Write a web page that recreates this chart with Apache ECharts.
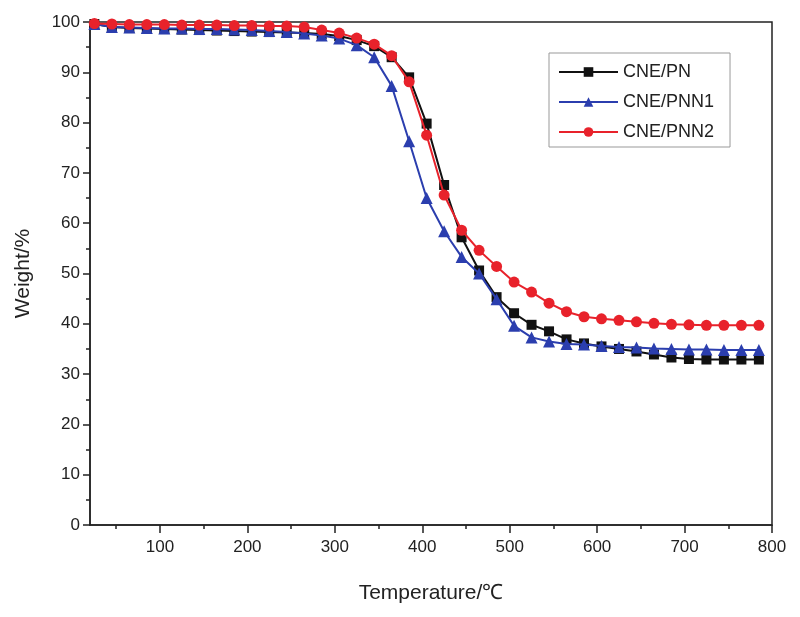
<!DOCTYPE html>
<html>
<head>
<meta charset="utf-8">
<script src="https://cdn.jsdelivr.net/npm/echarts@6/dist/echarts.min.js"></script>
<style>html,body{margin:0;padding:0;background:#fff}#c{width:800px;height:617px}</style>
</head>
<body>
<div id="c"></div>
<script>
var temps = [25,45,65,85,105,125,145,165,185,205,225,245,265,285,305,325,345,365,385,405,425,445,465,485,505,525,545,565,585,605,625,645,665,685,705,725,745,765,785];
var cnePN = [99.6,99.0,98.8,98.7,98.6,98.5,98.4,98.3,98.2,98.1,98.0,97.9,97.8,97.6,97.2,96.4,95.2,93.0,89.0,79.8,67.6,57.2,50.6,45.3,42.1,39.8,38.5,36.9,36.1,35.5,35.0,34.5,33.9,33.3,33.0,32.9,32.9,32.9,32.9];
var cnePNN1 = [99.6,99.0,98.9,98.8,98.7,98.7,98.6,98.6,98.5,98.4,98.2,98.0,97.7,97.3,96.7,95.4,93.0,87.3,76.3,65.0,58.4,53.3,50.0,44.9,39.6,37.3,36.5,36.0,35.9,35.6,35.4,35.3,35.1,35.0,34.9,34.9,34.8,34.8,34.8];
var cnePNN2 = [99.7,99.6,99.5,99.5,99.5,99.4,99.4,99.4,99.3,99.3,99.2,99.2,99.0,98.4,97.8,96.8,95.6,93.3,88.1,77.5,65.6,58.6,54.6,51.4,48.3,46.3,44.1,42.4,41.4,41.0,40.7,40.4,40.1,39.9,39.8,39.7,39.7,39.7,39.7];
var xMajor = [100,200,300,400,500,600,700,800];
var xMinor = [50,150,250,350,450,550,650,750];

function pairs(v){ return temps.map(function(t,i){ return [t, v[i]]; }); }

var chart = echarts.init(document.getElementById('c'));
var font = 'Liberation Sans, Arial, sans-serif';
chart.setOption({
  animation: false,
  backgroundColor: '#fff',
  grid: {left: 90, right: 28, top: 22, bottom: 92, show: true, borderColor: '#222', borderWidth: 1.5, backgroundColor: 'transparent'},
  legend: {
    orient: 'vertical', left: 549, top: 53,
    borderColor: '#999', borderWidth: 1, padding: [10, 16, 6, 9],
    itemWidth: 59, itemHeight: 12, itemGap: 12,
    textStyle: {fontFamily: font, fontSize: 18, color: '#222'},
    data: ['CNE/PN','CNE/PNN1','CNE/PNN2']
  },
  xAxis: [{
    type: 'value', min: 20, max: 800,
    name: 'Temperature/℃', nameLocation: 'middle', nameGap: 58,
    nameTextStyle: {fontFamily: font, fontSize: 21, color: '#222'},
    axisLine: {show: true, lineStyle: {color: '#222', width: 1.5}},
    axisTick: {show: true, inside: false, length: 8, customValues: xMajor, lineStyle: {color: '#222', width: 1.5}},
    axisLabel: {show: true, customValues: xMajor, margin: 14, fontFamily: font, fontSize: 17, color: '#222'},
    splitLine: {show: false}
  },{
    type: 'value', min: 20, max: 800, position: 'bottom',
    axisLine: {show: false},
    axisTick: {show: true, inside: false, length: 4, customValues: xMinor, lineStyle: {color: '#222', width: 1.5}},
    axisLabel: {show: false},
    splitLine: {show: false}
  }],
  yAxis: {
    type: 'value', min: 0, max: 100, interval: 10,
    name: 'Weight/%', nameLocation: 'middle', nameGap: 56, nameRotate: 90,
    nameTextStyle: {fontFamily: font, fontSize: 21, color: '#222'},
    axisLine: {show: true, lineStyle: {color: '#222', width: 1.5}},
    axisTick: {show: true, inside: false, length: 7, lineStyle: {color: '#222', width: 1.5}},
    minorTick: {show: true, splitNumber: 2, length: 4, lineStyle: {color: '#222', width: 1.5}},
    axisLabel: {margin: 10, fontFamily: font, fontSize: 17, color: '#222'},
    splitLine: {show: false}
  },
  series: [
    {name: 'CNE/PN', type: 'line', data: pairs(cnePN), symbol: 'rect', symbolSize: 10,
     itemStyle: {color: '#111'}, lineStyle: {color: '#111', width: 2}, z: 2},
    {name: 'CNE/PNN1', type: 'line', data: pairs(cnePNN1), symbol: 'triangle', symbolSize: 12,
     itemStyle: {color: '#2b3eae'}, lineStyle: {color: '#2b3eae', width: 2}, z: 3},
    {name: 'CNE/PNN2', type: 'line', data: pairs(cnePNN2), symbol: 'circle', symbolSize: 11,
     itemStyle: {color: '#e8222b'}, lineStyle: {color: '#e8222b', width: 2}, z: 4}
  ]
});
</script>
</body>
</html>
